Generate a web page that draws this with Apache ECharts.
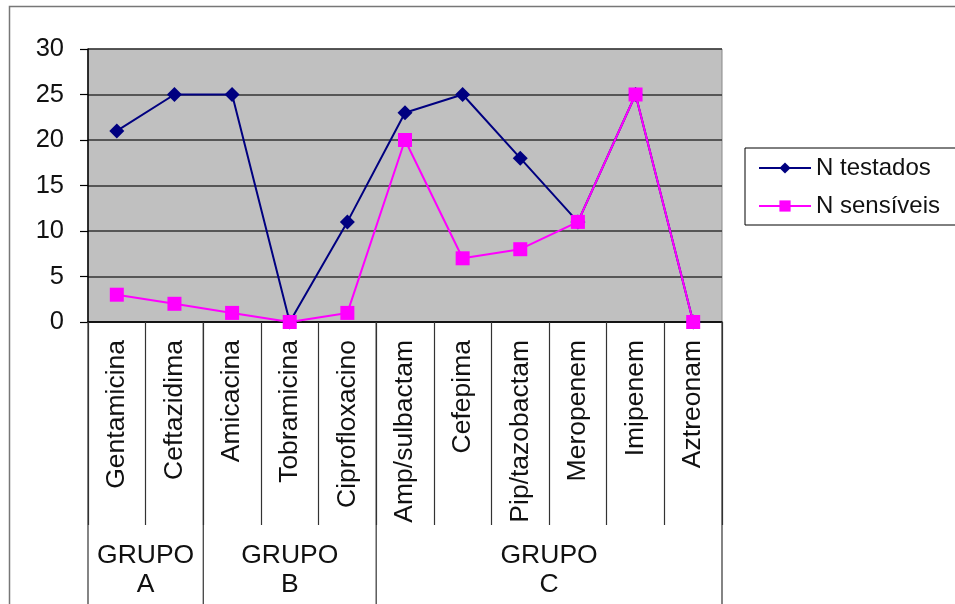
<!DOCTYPE html>
<html>
<head>
<meta charset="utf-8">
<script src="https://cdn.jsdelivr.net/npm/echarts@6/dist/echarts.min.js"></script>
<style>
html,body{margin:0;padding:0;background:#fff;}
#c{width:955px;height:604px;}
</style>
</head>
<body>
<div id="c"></div>
<script>
const categories = ['Gentamicina','Ceftazidima','Amicacina','Tobramicina','Ciprofloxacino','Amp/sulbactam','Cefepima','Pip/tazobactam','Meropenem','Imipenem','Aztreonam'];
const nTestados = [21, 25, 25, 0, 11, 23, 25, 18, 11, 25, 0];
const nSensiveis = [3, 2, 1, 0, 1, 20, 7, 8, 11, 25, 0];
const groupNames = ['GRUPO\nA', 'GRUPO\nB', 'GRUPO\nC'];
const groupBounds = [0, 2, 5, 11];
const yMin = 0, yMax = 30, yStep = 5;

const groupCenters = groupNames.map((_, i) => (groupBounds[i] + groupBounds[i + 1]) / 2);
const FONT = "'Liberation Sans', Arial, sans-serif";

const chart = echarts.init(document.getElementById('c'), null, {renderer: 'canvas'});
chart.setOption({
  animation: false,
  backgroundColor: '#ffffff',
  textStyle: {fontFamily: FONT, color: '#000'},
  graphic: [{
    id: 'frame', type: 'rect', left: 7, top: 4, z: -10,
    shape: {width: 1000, height: 700},
    style: {fill: 'none', stroke: '#777', lineWidth: 1.5}
  }],
  grid: {
    left: 88, right: 233, top: 49, bottom: 282,
    show: true, backgroundColor: '#c0c0c0', borderColor: '#888', borderWidth: 1
  },
  legend: {
    orient: 'vertical', left: 745, top: 148,
    padding: [8, 20, 7, 13],
    itemWidth: 52, itemHeight: 14, itemGap: 14,
    borderColor: '#000', borderWidth: 1, backgroundColor: '#fff',
    textStyle: {fontSize: 24, fontFamily: FONT, color: '#111'},
    data: ['N testados', 'N sensíveis']
  },
  xAxis: [{
    type: 'category', data: categories, boundaryGap: true, position: 'bottom',
    axisLine: {show: true, onZero: false, lineStyle: {color: '#000', width: 1.5}},
    axisTick: {show: true, interval: 0, length: 203, lineStyle: {color: '#333', width: 1.2}},
    axisLabel: {interval: 0, rotate: 90, margin: 18, fontSize: 26.5, fontFamily: FONT, color: '#111'},
    splitLine: {show: false}
  }, {
    type: 'value', min: groupBounds[0], max: groupBounds[groupBounds.length - 1],
    position: 'bottom', offset: 203,
    axisLine: {show: false},
    axisTick: {show: false},
    axisLabel: {
      customValues: groupCenters, margin: 16, fontSize: 26.5, lineHeight: 29, fontFamily: FONT, color: '#111', align: 'center',
      formatter: function (v) {
        const i = groupCenters.findIndex(c => Math.abs(c - v) < 1e-6);
        return i >= 0 ? groupNames[i] : '';
      }
    },
    splitLine: {show: false}
  }],
  yAxis: {
    type: 'value', min: yMin, max: yMax, interval: yStep,
    axisLine: {show: true, lineStyle: {color: '#000', width: 1.5}},
    axisTick: {show: true, length: 8, lineStyle: {color: '#000', width: 1.2}},
    axisLabel: {fontSize: 25.5, margin: 24, fontFamily: FONT, color: '#111'},
    splitLine: {show: true, lineStyle: {color: '#333', width: 1.5}}
  },
  series: [{
    name: 'N testados', type: 'line', xAxisIndex: 0, data: nTestados,
    symbol: 'diamond', symbolSize: 15, showAllSymbol: true,
    lineStyle: {color: '#000080', width: 2},
    itemStyle: {color: '#000080'}
  }, {
    name: 'N sensíveis', type: 'line', xAxisIndex: 0, data: nSensiveis,
    symbol: 'rect', symbolSize: 14, showAllSymbol: true,
    lineStyle: {color: '#ff00ff', width: 2},
    itemStyle: {color: '#ff00ff'}
  }]
});

// group separator lines, positioned through the group value axis
const y0 = chart.convertToPixel({yAxisIndex: 0}, yMin);
const sepLines = groupBounds.map((b, i) => {
  const x = chart.convertToPixel({xAxisIndex: 1}, b);
  return {
    id: 'gsep' + i, type: 'line', z: 5,
    shape: {x1: x, y1: y0, x2: x, y2: 610},
    style: {stroke: '#333', lineWidth: 1.2}
  };
});
chart.setOption({graphic: sepLines});
</script>
</body>
</html>
